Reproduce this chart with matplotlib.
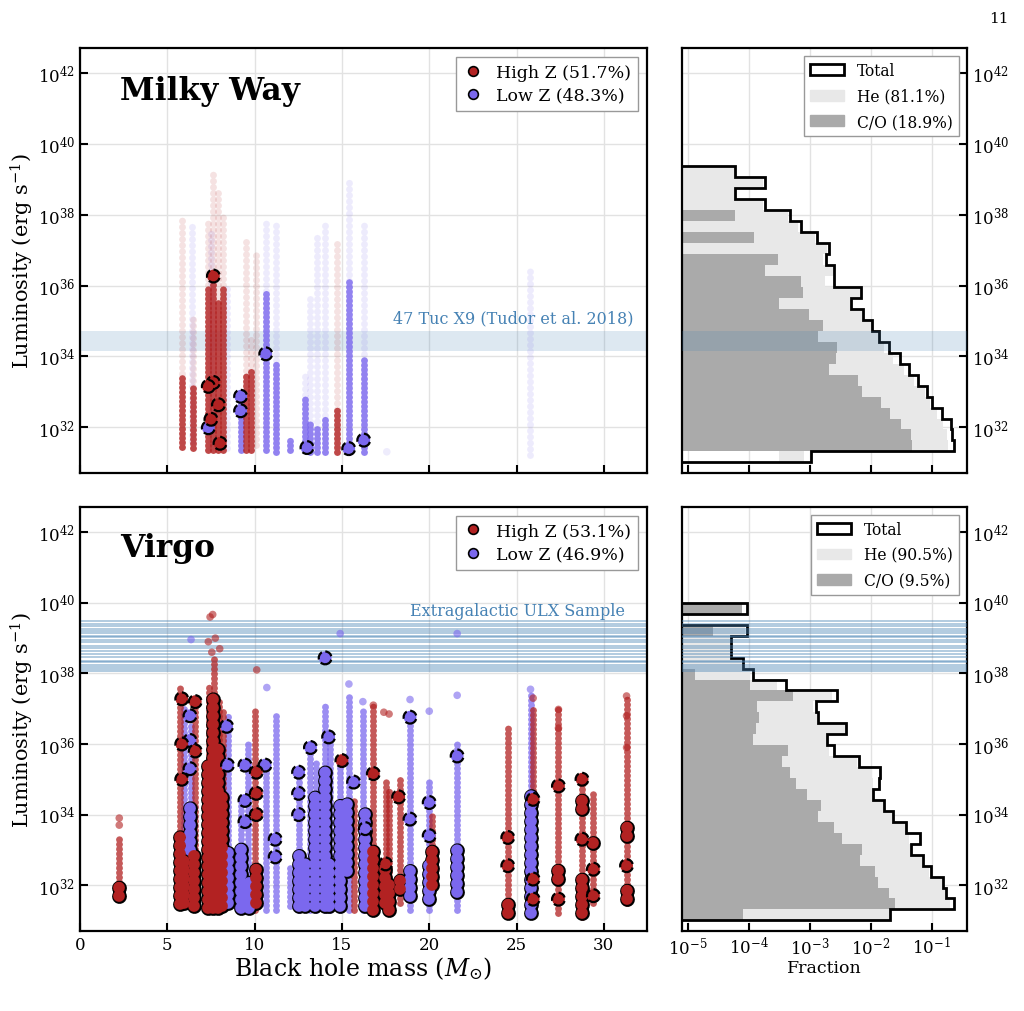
import numpy as np
import matplotlib
matplotlib.use("Agg")
import matplotlib.pyplot as plt
from matplotlib.lines import Line2D
from matplotlib.patches import Patch

plt.rcParams["font.family"] = "DejaVu Serif"
plt.rcParams["mathtext.fontset"] = "dejavuserif"

RED = "#b22222"
BLUE = "#7b68ee"
HE_C = "#e8e8e8"
CO_C = "#aaaaaa"
nan = np.nan

# ---------------------------------------------------------------------------
# histogram panels: log10(fraction) per log-luminosity bin, lowest bin first
lum_edges = np.linspace(31.0, 40.0, 30)

mw_total = [-2.98, -0.64, -0.67, -0.69, -0.84, -0.99, -1.08, -1.23, -1.37, -1.53,
            -1.71, -1.86, -1.98, -2.13, -2.33, -2.16, -2.60, -2.60, -2.74, -2.69,
            -2.89, -3.15, -3.32, -3.74, -4.22, -3.74, -4.22, nan, nan]
mw_he = [-3.10, -0.73, -0.75, -0.81, -0.92, -1.03, -1.11, -1.30, -1.46, -1.63,
         -1.79, -1.87, -2.00, -2.15, -2.34, -2.17, -2.75, -2.62, -2.78, -2.72,
         -2.91, -3.19, -3.35, -3.76, -4.22, -3.76, -4.22, nan, nan]
# left end of the He bar where it does not start at the axis
mw_he_start = [-3.51] + [nan] * 28
mw_co = [nan, -1.33, -1.34, -1.51, -1.68, -1.84, -2.15, -2.21, -2.68, -2.57,
         -2.55, -2.86, -2.79, -3.02, -3.51, -3.11, -3.15, -3.73, -3.52, nan,
         -3.92, nan, -4.22, nan, nan, nan, nan, nan, nan]

vg_total = [-1.69, -0.64, -0.77, -0.81, -1.02, -1.15, -1.34, -1.19, -1.42, -1.63,
            -1.78, -1.96, -1.86, -1.85, -2.19, -2.61, -2.72, -2.41, -2.87, -2.90,
            -2.55, -3.39, -3.93, -4.10, -4.29, -4.29, -4.03, nan, -4.03]
vg_he = [-1.71, -0.70, -0.78, -0.81, -1.05, -1.16, -1.36, -1.37, -1.41, -1.66,
         -1.79, -1.97, -1.96, -1.98, -2.23, -2.69, -2.72, -2.41, -2.89, -2.94,
         -2.64, -3.54, -3.98, -4.11, -4.31, -4.31, -4.06, nan, nan]
vg_he_start = [nan] * 29
vg_co = [-4.10, -1.61, -1.71, -1.89, -1.93, -2.17, -2.15, -2.48, -2.60, -2.86,
         -2.82, -3.05, -3.22, -3.33, -3.46, -3.35, -3.93, -3.88, -3.84, -3.87,
         -3.27, -3.98, -4.88, nan, nan, nan, -4.58, nan, -4.11]

# reference samples (log10 L)
tuc_band = (34.15, 34.72)
ulx_logL = [39.48, 39.40, 39.34, 39.26, 39.20, 39.14, 39.07, 39.03, 38.96, 38.88,
            38.79, 38.71, 38.63, 38.55, 38.46, 38.36, 38.32, 38.25, 38.18, 38.13, 38.08]

# ---------------------------------------------------------------------------
# Milky Way scatter: columns of binaries per BH mass (log10 L ranges)
mw_col_mass = [5.86, 6.49, 6.40, 7.35, 7.64, 7.93, 8.18, 7.50, 8.40, 9.20, 9.50, 9.78,
               10.10, 10.64, 11.23, 12.03, 12.91, 13.20, 13.56, 14.04, 14.70, 15.38,
               16.24, 25.75]
mw_col_metal = ["H", "H", "L", "H", "H", "H", "H", "L", "L", "L", "H", "H",
                "H", "L", "L", "L", "L", "L", "L", "L", "H", "L", "L", "L"]
mw_col_lo = [31.45, 31.42, 31.60, 31.35, 31.35, 31.35, 31.35, 31.40, 31.40, 31.35, 31.35, 31.35,
             31.50, 31.35, 31.30, 31.35, 31.35, 31.30, 31.30, 31.30, 31.30, 31.30,
             31.30, 31.20]
mw_col_dense = [33.40, 33.20, nan, 36.00, 36.10, 35.60, 36.00, nan, nan, 32.90, 33.50, 33.60,
                nan, 35.80, 33.80, 31.70, 32.90, 32.20, 32.00, 32.30, 32.50, 36.10,
                34.00, nan]
mw_col_faint = [37.90, 35.20, 37.80, 37.90, 39.20, 38.70, 38.00, 37.60, 36.00, 32.90, 37.30, 34.50,
                37.00, 37.90, 37.70, 31.70, 33.50, 35.70, 37.40, 37.80, 37.30, 39.00,
                37.80, 36.50]

mw_hl_mass = [7.64, 7.64, 7.35, 7.93, 7.50, 8.02, 7.35, 9.20, 9.20, 10.64, 13.00, 15.39, 16.25]
mw_hl_logL = [36.27, 33.26, 33.15, 32.63, 32.22, 31.54, 31.98, 32.87, 32.46, 34.07, 31.42, 31.39, 31.63]
mw_hl_metal = ["H", "H", "H", "H", "H", "H", "L", "L", "L", "L", "L", "L", "L"]

# ---------------------------------------------------------------------------
# Virgo scatter
vg_col_mass = [2.25, 5.75, 5.95, 6.35, 6.60, 7.40, 7.70, 7.95, 8.20, 8.45, 9.20, 9.60,
               10.05, 10.64, 11.20, 12.00, 12.52, 13.20, 13.50, 14.04, 14.30, 14.90,
               15.40, 15.70, 16.20, 16.80, 17.50, 17.70, 18.30, 18.90, 20.00, 20.15,
               21.60, 24.50, 25.80, 25.95, 27.40, 28.75, 29.40, 31.30]
vg_col_metal = ["H", "H", "L", "L", "H", "H", "H", "H", "H", "L", "L", "L",
                "H", "L", "L", "L", "L", "L", "L", "L", "L", "L",
                "L", "H", "L", "H", "H", "H", "H", "L", "L", "H",
                "L", "H", "L", "H", "H", "H", "H", "H"]
vg_col_lo = [31.70, 31.40, 31.50, 31.40, 31.40, 31.30, 31.30, 31.30, 31.40, 31.40, 31.30, 31.30,
             31.30, 31.30, 31.30, 31.40, 31.30, 31.30, 31.30, 31.30, 31.30, 31.30,
             31.30, 31.30, 31.30, 31.30, 31.30, 31.30, 31.50, 31.30, 31.30, 31.80,
             31.30, 31.20, 31.20, 32.00, 31.20, 31.10, 31.50, 31.50]
vg_col_hi = [33.30, 37.60, 37.00, 36.50, 37.30, 37.70, 38.40, 37.30, 37.00, 36.80, 34.50, 36.00,
             37.00, 35.50, 36.90, 32.50, 35.40, 36.00, 35.50, 37.20, 36.00, 35.50,
             37.40, 34.50, 37.00, 37.10, 35.00, 34.70, 35.00, 36.80, 35.00, 34.00,
             36.00, 36.50, 37.40, 37.00, 37.00, 35.00, 34.70, 37.40]

vg_stack_mass = [2.25, 5.75, 5.95, 6.55, 6.30, 7.35, 7.60, 7.90, 8.15, 8.45, 9.20, 9.70,
                 10.10, 12.52, 12.90, 13.47, 14.04, 14.24, 14.90, 15.30, 16.34, 16.80,
                 17.45, 17.67, 18.34, 18.90, 20.00, 20.15, 21.60, 24.50, 25.80, 27.40,
                 28.75, 28.75, 29.40, 31.30, 31.30]
vg_stack_metal = ["H", "H", "H", "H", "L", "H", "H", "H", "H", "L", "L", "L",
                  "H", "L", "L", "L", "L", "L", "L", "L", "L", "H",
                  "H", "H", "H", "L", "L", "H", "L", "H", "L", "H",
                  "H", "H", "H", "H", "H"]
vg_stack_lo = [31.70, 31.45, 31.50, 31.40, 33.00, 31.35, 31.35, 31.35, 31.40, 31.50, 31.35, 31.35,
               31.50, 31.40, 31.40, 31.40, 31.40, 31.40, 31.40, 32.40, 31.40, 31.30,
               31.50, 31.30, 31.90, 31.70, 31.60, 32.00, 31.80, 31.20, 31.20, 32.17,
               34.15, 31.20, 33.20, 33.40, 31.60]
vg_stack_hi = [32.05, 33.60, 32.80, 33.00, 34.20, 35.50, 37.30, 36.00, 34.50, 33.00, 33.10, 32.10,
               32.50, 33.00, 32.75, 34.70, 35.20, 32.80, 34.35, 34.40, 34.25, 33.10,
               32.55, 32.10, 32.30, 32.60, 32.60, 33.10, 33.00, 31.46, 34.70, 32.55,
               34.60, 32.17, 33.40, 33.70, 31.90]

vg_hl_mass = [14.04, 5.83, 5.83, 5.83, 6.60, 6.60, 6.30, 6.30, 6.30, 8.40, 8.45,
              9.45, 9.45, 9.45, 10.10, 10.10, 10.10, 10.60, 11.18, 11.18, 12.52, 12.52,
              12.52, 13.20, 14.24, 15.00, 15.67, 16.34, 16.80, 17.50, 18.25, 18.90,
              18.90, 20.00, 20.00, 21.60, 24.50, 24.50, 25.95, 25.95, 25.95, 27.40,
              27.40, 28.75, 28.75, 29.40, 29.40, 31.30]
vg_hl_logL = [38.44, 37.28, 36.00, 35.00, 37.20, 35.80, 36.80, 36.10, 35.30, 36.50, 35.40,
              35.40, 34.40, 33.80, 35.20, 34.60, 34.00, 35.40, 33.30, 32.80, 35.20, 34.60,
              34.00, 35.90, 36.20, 35.53, 34.92, 33.60, 35.16, 32.60, 34.50, 36.76,
              33.87, 34.34, 33.40, 35.66, 33.35, 32.55, 34.43, 32.17, 31.60, 34.81,
              31.60, 35.00, 33.30, 32.45, 31.70, 32.55]
vg_hl_metal = ["L", "H", "H", "H", "H", "H", "L", "L", "L", "L", "L",
               "L", "L", "L", "H", "H", "H", "L", "L", "L", "L", "L",
               "L", "L", "L", "H", "L", "L", "H", "H", "H", "L",
               "L", "L", "L", "L", "H", "H", "H", "H", "H", "H",
               "H", "H", "H", "H", "H", "H"]

vg_dot_mass = [7.60, 7.45, 7.35, 7.75, 7.55, 8.00, 6.36, 14.90, 21.60, 10.12, 10.70,
               15.40, 16.20, 21.60, 25.80, 25.95, 27.40, 27.40, 31.30, 31.30, 31.30,
               18.90, 20.00, 17.40, 16.80, 17.70, 2.25, 2.25]
vg_dot_logL = [39.67, 39.60, 38.90, 39.00, 38.60, 38.70, 38.96, 39.13, 39.13, 38.10, 37.60,
               37.70, 37.20, 37.38, 37.55, 37.30, 36.98, 36.45, 37.36, 36.80, 35.90,
               37.26, 36.93, 36.90, 37.10, 36.85, 33.90, 33.70]
vg_dot_metal = ["H", "H", "H", "H", "H", "H", "L", "L", "L", "H", "L",
                "L", "L", "L", "L", "H", "H", "H", "H", "H", "H",
                "L", "L", "H", "H", "H", "H", "H"]


def colour(m):
    return RED if m == "H" else BLUE


def beads(period, lw):
    # dotted line of round caps, one dot every `period` points
    return (0, (0.001, period / lw))


def columns(ax, mass, lo, hi, metal, lw, alpha, z, edge=False, period=3.6):
    mass = np.array(mass); lo = np.array(lo); hi = np.array(hi); metal = np.array(metal)
    ok = ~np.isnan(hi)
    for key in ("L", "H"):
        sel = ok & (metal == key)
        if edge:
            ax.vlines(mass[sel], 10**lo[sel], 10**hi[sel], colors="black", lw=lw + 2.2,
                      linestyles=[beads(period, lw + 2.2)], capstyle="round", zorder=z)
        ax.vlines(mass[sel], 10**lo[sel], 10**hi[sel], colors=colour(key), lw=lw,
                  linestyles=[beads(period, lw)], alpha=alpha, capstyle="round",
                  zorder=z + 0.1)


def points(ax, mass, logL, metal, hl, z):
    mass = np.array(mass); logL = np.array(logL); metal = np.array(metal)
    for key in ("L", "H"):
        sel = metal == key
        if hl:
            ax.scatter(mass[sel], 10**logL[sel], s=85, c=colour(key), edgecolors="black",
                       linewidths=1.6, linestyle="--", zorder=z)
        else:
            ax.scatter(mass[sel], 10**logL[sel], s=30, c=colour(key), alpha=0.6,
                       edgecolors="none", zorder=z)


def style(ax, right=False):
    ax.set_yscale("log")
    ax.set_ylim(10**30.7, 10**42.72)
    ax.set_yticks([10.0**k for k in range(32, 43, 2)])
    ax.yaxis.set_minor_locator(matplotlib.ticker.NullLocator())
    ax.tick_params(direction="in", length=6, width=1.5, labelsize=12)
    if right:
        ax.yaxis.tick_right()
    for s in ax.spines.values():
        s.set_linewidth(1.6)
    ax.grid(True, color="#e2e2e2", lw=1.0, zorder=0)
    ax.set_axisbelow(True)


def hist(ax, total, he, he_start, co, labels):
    edges = 10**lum_edges
    f = lambda v: np.nan_to_num(10**np.array(v), nan=1e-9)
    ax.set_xscale("log")
    ax.stairs(f(he), edges, orientation="horizontal", baseline=f(he_start), fill=True,
              color=HE_C, zorder=1)
    ax.stairs(f(co), edges, orientation="horizontal", baseline=1e-9, fill=True,
              color=CO_C, zorder=1.2)
    ax.stairs(f(total), edges, orientation="horizontal", baseline=1e-9, fill=False,
              color="black", lw=2.0, zorder=3)
    ax.set_xlim(10**-5.1, 10**-0.43)
    ax.set_xticks([1e-5, 1e-4, 1e-3, 1e-2, 1e-1])
    ax.xaxis.set_minor_locator(matplotlib.ticker.NullLocator())
    handles = [Patch(fc="white", ec="black", lw=2), Patch(color=HE_C), Patch(color=CO_C)]
    lg = ax.legend(handles, labels, loc="upper right", fontsize=11.2, fancybox=False,
                   framealpha=1, edgecolor="#999999", handlelength=2.2, labelspacing=0.55)
    lg.set_zorder(10)


fig = plt.figure(figsize=(10.24, 10.12), dpi=100)
ax_mw = fig.add_axes([0.0781, 0.5316, 0.5534, 0.420])
ax_mwh = fig.add_axes([0.6657, 0.5316, 0.2783, 0.420])
ax_vg = fig.add_axes([0.0781, 0.0791, 0.5534, 0.419])
ax_vgh = fig.add_axes([0.6657, 0.0791, 0.2783, 0.419])

for ax in (ax_mw, ax_vg):
    style(ax)
    ax.set_xlim(0, 32.45)
    ax.set_xticks(range(0, 31, 5))
    ax.set_ylabel(r"Luminosity (erg s$^{-1}$)", fontsize=15, labelpad=1)
for ax in (ax_mwh, ax_vgh):
    style(ax, right=True)
ax_mw.tick_params(labelbottom=False)
ax_mwh.tick_params(labelbottom=False)
ax_vg.set_xlabel(r"Black hole mass ($M_{\odot}$)", fontsize=17, labelpad=1)
ax_vgh.set_xlabel("Fraction", fontsize=12.5, labelpad=1)

# ---- Milky Way
ax_mw.axhspan(10**tuc_band[0], 10**tuc_band[1], color="steelblue", alpha=0.18, lw=0, zorder=1)
ax_mw.text(31.7, 10**34.85, "47 Tuc X9 (Tudor et al. 2018)", color="steelblue",
           ha="right", va="bottom", fontsize=11.5)
columns(ax_mw, mw_col_mass, mw_col_lo, mw_col_faint, mw_col_metal, 5, 0.13, 2, period=4.4)
columns(ax_mw, mw_col_mass, mw_col_lo, mw_col_dense, mw_col_metal, 5, 0.8, 2.5, period=3.3)
ax_mw.scatter([17.57], [10**31.3], s=30, c=BLUE, alpha=0.12, edgecolors="none")
points(ax_mw, mw_hl_mass, mw_hl_logL, mw_hl_metal, True, 5)
ax_mw.text(0.07, 0.90, "Milky Way", transform=ax_mw.transAxes, fontsize=22.5,
           fontweight="bold", va="center")

hist(ax_mwh, mw_total, mw_he, mw_he_start, mw_co, ["Total", "He (81.1%)", "C/O (18.9%)"])
ax_mwh.axhspan(10**tuc_band[0], 10**tuc_band[1], color="steelblue", alpha=0.2, lw=0, zorder=4)

# ---- Virgo
for L in ulx_logL:
    for ax in (ax_vg, ax_vgh):
        ax.axhline(10**L, color="steelblue", lw=1.3, alpha=0.45, zorder=1.5 if ax is ax_vg else 4)
ax_vg.text(31.2, 10**39.55, "Extragalactic ULX Sample", color="steelblue",
           ha="right", va="bottom", fontsize=11.5)
columns(ax_vg, vg_col_mass, vg_col_lo, vg_col_hi, vg_col_metal, 5, 0.75, 2, period=3.4)
points(ax_vg, vg_dot_mass, vg_dot_logL, vg_dot_metal, False, 2.5)
columns(ax_vg, vg_stack_mass, vg_stack_lo, vg_stack_hi, vg_stack_metal, 8.5, 1.0, 3,
        edge=True, period=6.0)
points(ax_vg, vg_hl_mass, vg_hl_logL, vg_hl_metal, True, 5)
ax_vg.text(0.07, 0.905, "Virgo", transform=ax_vg.transAxes, fontsize=22.5,
           fontweight="bold", va="center")

hist(ax_vgh, vg_total, vg_he, vg_he_start, vg_co, ["Total", "He (90.5%)", "C/O (9.5%)"])

# scatter legends
for ax, labs in ((ax_mw, ["High Z (51.7%)", "Low Z (48.3%)"]),
                 (ax_vg, ["High Z (53.1%)", "Low Z (46.9%)"])):
    hs = [Line2D([], [], ls="none", marker="o", ms=7, mfc=c, mec="black", mew=1.2)
          for c in (RED, BLUE)]
    lg = ax.legend(hs, labs, loc="upper right", fontsize=12.5, fancybox=False,
                   framealpha=1, edgecolor="#999999", handlelength=1.2, handletextpad=0.7,
                   labelspacing=0.35)
    lg.set_zorder(10)

fig.text(0.985, 0.988, "11", ha="right", va="top", fontsize=11)
fig.savefig("out.png", dpi=100)
